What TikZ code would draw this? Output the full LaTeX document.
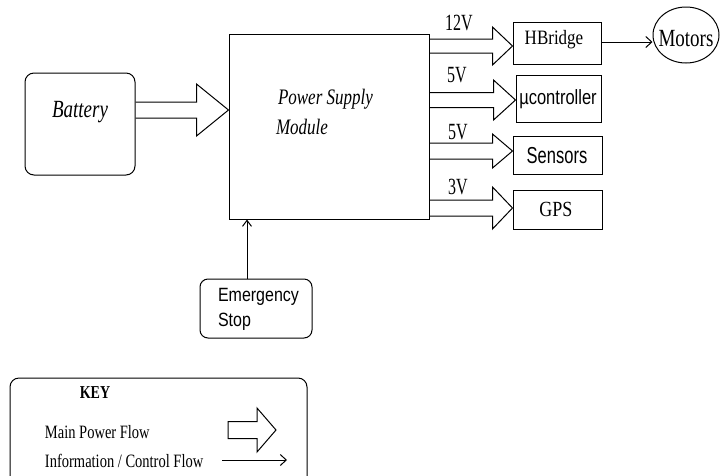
\documentclass[tikz,border=0pt]{standalone}
\usepackage{fontspec}
\usepackage{graphicx}
\setmainfont{Liberation Serif}
\newfontfamily\sansf{Liberation Sans}
\usetikzlibrary{calc,shapes.geometric,arrows.meta}
\newcommand\vs[2][1.3]{\scalebox{1}[#1]{#2}}
% fat power arrow: #1 start anchor, #2 tip anchor, #3 centre y, #4 shaft half, #5 head half, #6 head length
\newcommand\powerarrow[6]{%
  \draw ($(#1|-0,#3)+(0,-#4)$) -- ($(#2|-0,#3)+(-#6,-#4)$) -- ($(#2|-0,#3)+(-#6,-#5)$)
        -- (#2|-0,#3) -- ($(#2|-0,#3)+(-#6,#5)$) -- ($(#2|-0,#3)+(-#6,#4)$) -- ($(#1|-0,#3)+(0,#4)$);}
\begin{document}
\begin{tikzpicture}[x=1pt,y=-1pt,line width=1pt,
  blockbox/.style={draw,rectangle,inner sep=0pt},
  roundbox/.style={draw,rectangle,rounded corners=9pt,inner sep=0pt},
  lbl/.style={inner sep=0pt,outer sep=0pt},
  serifit/.style={lbl,font=\fontsize{19}{22}\selectfont\itshape},
  psufont/.style={lbl,font=\fontsize{17}{20}\selectfont\itshape},
  sanslbl/.style={lbl,font=\sansf\fontsize{16.5}{20}\selectfont},
  seriflbl/.style={lbl,font=\fontsize{17}{20}\selectfont},
  voltlbl/.style={lbl,font=\fontsize{16}{20}\selectfont},
  keylbl/.style={lbl,font=\fontsize{14.5}{18}\selectfont},
  thinarrow/.style={-{Straight Barb[length=6pt,width=11pt]}}]
\useasboundingbox (0,0) rectangle (721,475);
\fill[white] (0,0) rectangle (721,475);

% blocks
\node[roundbox,minimum width=110pt,minimum height=102pt] (batt) at (80,124) {};
\node[serifit] (battlbl) at (80,112) {\vs{Battery}};
\node[blockbox,minimum width=200pt,minimum height=185pt] (psu) at (329,126.5) {};
\node[psufont,anchor=west] (psulbl1) at (278,99) {\vs{Power Supply}};
\node[psufont,anchor=west] (psulbl2) at (276,127) {\vs{Module}};

\node[blockbox,minimum width=88pt,minimum height=42pt] (hb) at (557,43) {};
\node[seriflbl] (hblbl) at (554,40) {\vs[1.2]{HBridge}};
\node[blockbox,minimum width=85pt,minimum height=47pt] (uc) at (558.5,98.5) {};
\node[sanslbl] (uclbl) at (558,99) {\vs[1.25]{µcontroller}};
\node[blockbox,minimum width=89pt,minimum height=38pt] (sens) at (557.5,155) {};
\node[sanslbl] (senslbl) at (557,156) {\vs[1.4]{Sensors}};
\node[blockbox,minimum width=89pt,minimum height=39pt] (gps) at (557.5,209.5) {};
\node[seriflbl,font=\fontsize{18}{20}\selectfont] (gpslbl) at (556,209) {\vs[1.2]{GPS}};

\node[draw,ellipse,minimum width=66pt,minimum height=56pt,inner sep=0pt] (mot) at (686,35) {};
\node[lbl,font=\fontsize{19}{22}\selectfont] (motlbl) at (686,39) {\vs[1.3]{Motors}};

\node[roundbox,rounded corners=8pt,minimum width=112pt,minimum height=59pt] (estop) at (256,308.5) {};
\node[sanslbl,font=\sansf\fontsize{16}{20}\selectfont,anchor=west] (estopl1) at (218,297) {\vs[1.2]{Emergency}};
\node[sanslbl,font=\sansf\fontsize{16}{20}\selectfont,anchor=west] (estopl2) at (218,322) {\vs[1.2]{Stop}};

% voltage labels
\node[voltlbl] (v12) at (459,23) {\vs[1.45]{12V}};
\node[voltlbl] (v5a) at (457,75) {\vs[1.45]{5V}};
\node[voltlbl] (v5b) at (458,132) {\vs[1.45]{5V}};
\node[voltlbl] (v3) at (458,187) {\vs[1.45]{3V}};

% power arrows
\powerarrow{batt.east}{psu.west}{110}{8}{26}{32}
\powerarrow{psu.east}{hb.west}{46}{7}{19}{20}
\powerarrow{psu.east}{uc.west}{100}{7.5}{20}{22}
\powerarrow{psu.east}{sens.west}{151}{8}{17}{20}
\powerarrow{psu.east}{gps.west}{208}{8}{21}{20}

% control arrows
\draw[thinarrow] (hb.east|-0,42) -- (mot.west|-0,42);
\coordinate (estopN) at (estop.north-|247,0);
\coordinate (psuS) at (psu.south-|247,0);
\draw[-{Straight Barb[length=6pt,width=9pt]}] (estopN) -- (psuS);

% key
\begin{scope}
\clip (0,0) rectangle (721,475);
\draw[rounded corners=9pt] (10,495) -- (10,378) -- (307,378) -- (307,495);
\end{scope}
\node[lbl,font=\fontsize{14}{18}\selectfont\bfseries] (keyt) at (95,393) {\vs[1.3]{KEY}};
\node[keylbl,anchor=west] (keym) at (45,432) {\vs[1.3]{Main Power Flow}};
\node[keylbl,anchor=west] (keyi) at (45,461) {\vs[1.3]{Information / Control Flow}};
\coordinate (ka) at (228,430);
\coordinate (kb) at (276,430);
\draw (ka|-0,421.5) -- (257,421.5) -- (257,408) -- (kb) -- (257,452) -- (257,438.5) -- (ka|-0,438.5) -- cycle;
\coordinate (ia) at (222,460);
\coordinate (ib) at (287,460);
\draw[thinarrow] (ia) -- (ib);
\end{tikzpicture}
\end{document}
